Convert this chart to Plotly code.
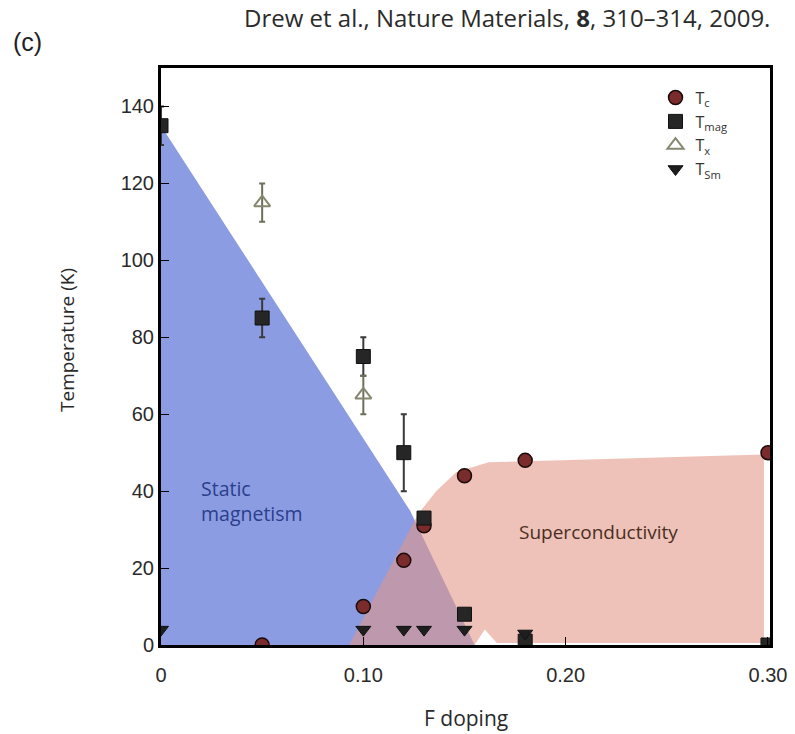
import plotly.graph_objects as go

# F doping level and characteristic temperatures (K)
doping_tc = [0.05, 0.10, 0.12, 0.13, 0.15, 0.18, 0.30]
tc = [0, 10, 22, 31, 44, 48, 50]

doping_mag = [0.0, 0.05, 0.10, 0.12, 0.13, 0.15, 0.18, 0.30]
tmag = [135, 85, 75, 50, 33, 8, 1, 0]
tmag_err = [5, 5, 5, 10, 0, 0, 0, 0]

doping_x = [0.05, 0.10]
tx = [115, 65]
tx_err = [5, 5]

doping_sm = [0.0, 0.10, 0.12, 0.13, 0.15, 0.18]
tsm = [4, 4, 4, 4, 4, 3]

# phase-region outlines (doping, temperature)
magnetism_x = [0.0, 0.0, 0.075, 0.123, 0.155, 0.0]
magnetism_y = [0, 135, 74, 35, 0, 0]

sc_x = [0.093, 0.127, 0.136, 0.146, 0.162, 0.298, 0.298, 0.166, 0.160, 0.155, 0.093]
sc_y = [0, 34, 40, 45, 47.5, 49.5, 0.5, 0.5, 4, 0, 0]

x_ticks = [0, 0.10, 0.20, 0.30]
x_ticklabels = ["0", "0.10", "0.20", "0.30"]
y_ticks = [0, 20, 40, 60, 80, 100, 120, 140]

fig = go.Figure()

# shaded phase regions
fig.add_trace(go.Scatter(
    x=magnetism_x, y=magnetism_y, mode="lines", fill="toself",
    fillcolor="rgb(140,156,226)", line=dict(width=0),
    hoverinfo="skip", showlegend=False))
fig.add_trace(go.Scatter(
    x=sc_x, y=sc_y, mode="lines", fill="toself",
    fillcolor="rgba(226,150,132,0.58)", line=dict(width=0),
    hoverinfo="skip", showlegend=False))

fig.add_trace(go.Scatter(
    x=doping_tc, y=tc, mode="markers", name="T<sub>c</sub>",
    marker=dict(symbol="circle", size=14, color="#7a2c2c",
                line=dict(color="#1a0a0a", width=1.5))))
fig.add_trace(go.Scatter(
    x=doping_mag, y=tmag, mode="markers", name="T<sub>mag</sub>",
    error_y=dict(type="data", array=tmag_err, color="#3a3a3a",
                 thickness=2, width=3),
    marker=dict(symbol="square", size=14, color="#262626",
                line=dict(color="#111111", width=1))))
fig.add_trace(go.Scatter(
    x=doping_x, y=tx, mode="markers", name="T<sub>x</sub>",
    error_y=dict(type="data", array=tx_err, color="#6d6f5a",
                 thickness=2, width=3),
    marker=dict(symbol="triangle-up-open", size=14, color="#85876e",
                line=dict(width=2))))
fig.add_trace(go.Scatter(
    x=doping_sm, y=tsm, mode="markers", name="T<sub>Sm</sub>",
    marker=dict(symbol="triangle-down", size=13, color="#1e1e1e",
                line=dict(color="#111111", width=1))))

fig.add_annotation(x=0.019, y=37.5, xref="x", yref="y",
                   text="Static<br>magnetism", showarrow=False,
                   xanchor="left", align="left",
                   font=dict(family="Open Sans", size=19.5, color="#2a3f8c"))
fig.add_annotation(x=0.176, y=29.3, xref="x", yref="y",
                   text="Superconductivity", showarrow=False,
                   xanchor="left",
                   font=dict(family="Open Sans", size=19, color="#4a2e22"))

# citation, panel letter and axis titles
fig.add_annotation(x=0.568, y=1.088, xref="paper", yref="paper",
                   text="Drew et al., Nature Materials, <b>8</b>, 310–314, 2009.",
                   showarrow=False, yanchor="middle",
                   font=dict(family="Open Sans", size=24, color="#2b2b2b"))
fig.add_annotation(x=-0.247, y=1.045, xref="paper", yref="paper",
                   text="(c)", showarrow=False, xanchor="left",
                   yanchor="middle",
                   font=dict(family="Liberation Sans", size=25, color="#222222"))
fig.add_annotation(x=0.501, y=-0.127, xref="paper", yref="paper",
                   text="F doping", showarrow=False, yanchor="middle",
                   font=dict(family="Open Sans", size=21, color="#2a2a2a"))
fig.add_annotation(x=-0.154, y=0.529, xref="paper", yref="paper",
                   text="Temperature (K)", showarrow=False, textangle=-90,
                   xanchor="center", yanchor="middle",
                   font=dict(family="Open Sans", size=19, color="#2a2a2a"))

axis_common = dict(showline=True, linecolor="black", linewidth=3,
                   mirror=True, showgrid=False, zeroline=False,
                   automargin=False,
                   ticks="inside", ticklen=8, tickcolor="black",
                   tickfont=dict(family="Liberation Sans", size=20,
                                 color="#2a2a2a"))

fig.update_xaxes(range=[0, 0.301], tickvals=x_ticks,
                 ticktext=x_ticklabels, ticklabelstandoff=10,
                 **axis_common)
fig.update_yaxes(range=[0, 150], tickvals=y_ticks, **axis_common)

fig.update_layout(
    width=795, height=734,
    margin=dict(l=161, r=25, t=68, b=89),
    paper_bgcolor="white", plot_bgcolor="white",
    legend=dict(x=0.812, y=0.978, xanchor="left", yanchor="top",
                bgcolor="rgba(0,0,0,0)",
                font=dict(family="Open Sans", size=16, color="#333333")),
)

fig.write_html("out.html")
